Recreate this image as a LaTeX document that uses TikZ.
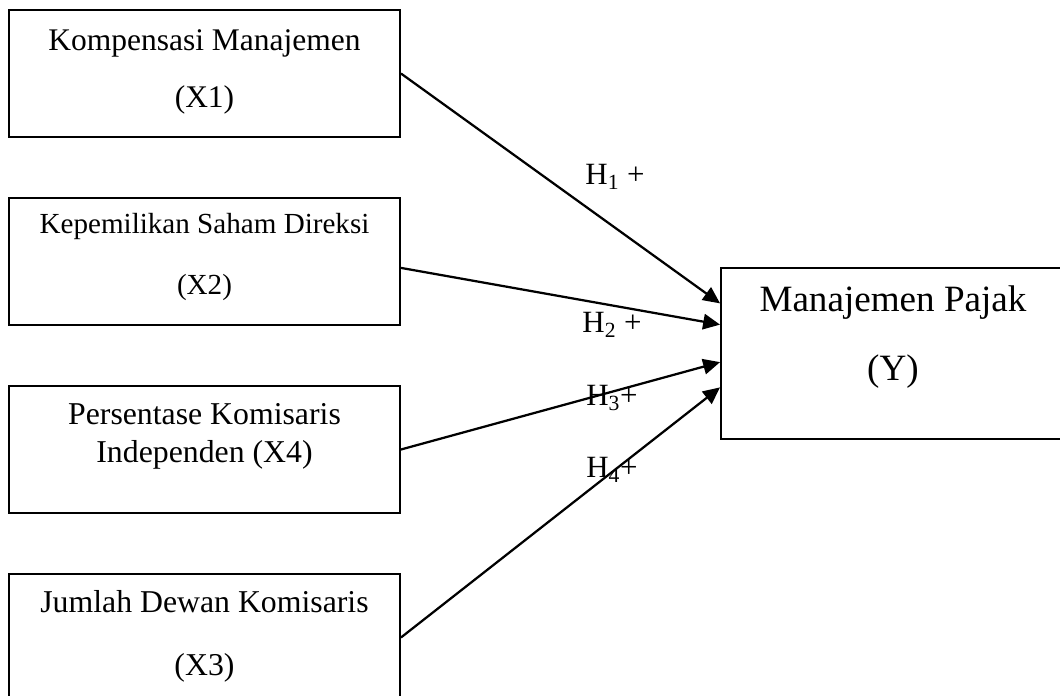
\documentclass[tikz,border=0pt]{standalone}
\usepackage{fontspec}
\setmainfont{Liberation Serif}
\usetikzlibrary{arrows.meta, positioning, calc}

\begin{document}
\begin{tikzpicture}[
    x=0.025cm, y=-0.025cm,
    var/.style={draw, line width=1.3pt, minimum width=9.775cm,
                minimum height=3.175cm, inner sep=0pt},
    dep/.style={draw, line width=1.3pt, minimum width=8.6cm,
                minimum height=4.275cm, inner sep=0pt},
    txt/.style={align=center, inner sep=0pt},
    hyp/.style={inner sep=0pt, font=\fontsize{22}{26}\selectfont},
    arr/.style={->, line width=1.6pt},
    >={Triangle[length=12pt, width=11pt]},
]
\useasboundingbox (0,0) rectangle (1060,696);
% --- independent variables (X) ---------------------------------------------
\node[var] (x1) at (204.5,73.5) {};
\node[var] (x2) at (204.5,261.5) {};
\node[var] (x4) at (204.5,449.5) {};
\node[var] (x3) at (204.5,637.5) {};
\node[txt, font=\fontsize{22.4}{40.5}\selectfont] (x1t) at (204.5,71.5)
  {Kompensasi Manajemen\\(X1)};
\node[txt, font=\fontsize{20.7}{42.7}\selectfont] (x2t) at (204.5,257)
  {Kepemilikan Saham Direksi\\(X2)};
\node[txt, font=\fontsize{22.6}{27}\selectfont] (x4t) at (204.5,436)
  {Persentase Komisaris\\Independen (X4)};
\node[txt, font=\fontsize{22.6}{44.7}\selectfont] (x3t) at (204.5,636.5)
  {Jumlah Dewan Komisaris\\(X3)};
% --- dependent variable (Y) -------------------------------------------------
\node[dep] (y) at (893,353.5) {};
\node[txt, font=\fontsize{26.4}{49.6}\selectfont] (yt) at (893,337)
  {Manajemen Pajak\\(Y)};
% --- hypotheses -------------------------------------------------------------
\draw[arr] (x1.east) -- ($(y.north west)!0.21!(y.south west)$);
\draw[arr] ([yshift=-0.16cm]x2.east) -- ($(y.north west)!0.333!(y.south west)$);
\draw[arr] (x4.east) -- ($(y.north west)!0.55!(y.south west)$);
\draw[arr] (x3.east) -- ($(y.north west)!0.696!(y.south west)$);
\node[hyp] (h1) at (615,177) {H\textsubscript{1} +};
\node[hyp] (h2) at (612,325) {H\textsubscript{2} +};
\node[hyp] (h3) at (612,398) {H\textsubscript{3}+};
\node[hyp] (h4) at (612,470) {H\textsubscript{4}+};
\end{tikzpicture}
\end{document}
